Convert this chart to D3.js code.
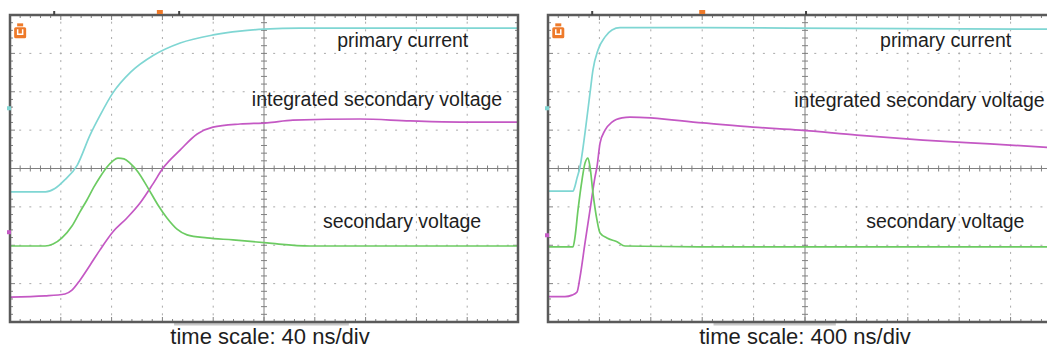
<!DOCTYPE html>
<html>
<head>
<meta charset="utf-8">
<script src="https://cdn.jsdelivr.net/npm/d3@7"></script>
<style>
  html, body { margin: 0; padding: 0; background: #fff; }
  svg { display: block; font-family: "Liberation Sans", Arial, sans-serif; }
</style>
</head>
<body>
<svg id="chart" width="1047" height="349"></svg>
<script>
// Scope screens: 10 horizontal divisions, 8 vertical divisions (values in divisions, -4..4)
const labels = ["primary current", "integrated secondary voltage", "secondary voltage"];
const timeScaleLabels = ["time scale: 40 ns/div", "time scale: 400 ns/div"];
const nsPerDiv = [40, 400];

// ---- Screen A: 40 ns/div ----
const tCurrentA = [0, 28, 35, 43, 53, 63, 71, 81, 95, 113, 134, 160, 181, 200, 228, 300, 400];
const vCurrentA = [-0.61, -0.61, -0.53, -0.30, 0.09, 0.87, 1.39, 1.97, 2.51, 2.95, 3.27, 3.48, 3.58, 3.63, 3.66, 3.66, 3.66];

const tSecondaryA = [0, 27.6, 33.9, 40.9, 48.8, 55.1, 60.6, 66.1, 70.9, 76.4, 81.1, 85, 89.8, 94.5, 100.8, 108.7, 116.5, 123.6, 131.5, 139.4, 155.1, 175.6, 202.4, 236.2, 400];
const vSecondaryA = [-2.02, -2.02, -1.97, -1.81, -1.50, -1.13, -0.82, -0.48, -0.22, 0.04, 0.20, 0.27, 0.25, 0.14, -0.09, -0.51, -0.95, -1.29, -1.58, -1.73, -1.81, -1.86, -1.94, -2.02, -2.02];

const tIntegratedA = [0, 27.6, 43.3, 48.8, 55.1, 63, 70.9, 81.1, 92.1, 102.4, 112.6, 120.5, 133.9, 147.4, 159.8, 181.1, 202.4, 222.8, 275.6, 315, 354.3, 400];
const vIntegratedA = [-3.35, -3.32, -3.27, -3.17, -2.91, -2.52, -2.12, -1.65, -1.29, -0.90, -0.40, 0.01, 0.48, 0.90, 1.08, 1.16, 1.19, 1.26, 1.29, 1.24, 1.21, 1.21];

// ---- Screen B: 400 ns/div ----
const tCurrentB = [0, 194.6, 210, 225.7, 249, 288, 327, 350, 389, 444, 498, 560, 1183, 2350, 4000];
const vCurrentB = [-0.59, -0.59, -0.46, -0.25, 0.04, 0.93, 1.97, 2.57, 3.09, 3.43, 3.61, 3.67, 3.67, 3.65, 3.63];

const tSecondaryB = [0, 194.6, 210, 233.5, 264.6, 288, 311, 327, 350, 381, 405, 459, 537, 599, 1183, 4000];
const vSecondaryB = [-2.04, -2.04, -1.79, -1.08, -0.30, 0.14, 0.27, 0.04, -0.64, -1.34, -1.68, -1.81, -1.91, -2.02, -2.04, -2.04];

const tIntegratedB = [0, 132, 187, 226, 249, 288, 327, 366, 381, 405, 444, 498, 576, 638, 1206, 1595, 1961, 2405, 2918, 3440, 4000];
const vIntegratedB = [-3.34, -3.34, -3.30, -3.22, -2.83, -1.94, -1.08, -0.22, 0.04, 0.66, 1.00, 1.21, 1.32, 1.34, 1.19, 1.08, 1.00, 0.87, 0.74, 0.64, 0.53];

const colors = { current: "#7fd6d3", integrated: "#c458c4", secondary: "#6ccb62", marker: "#ee7a2a" };

const svg = d3.select("#chart");

const panels = [
  {
    left: 10, right: 518, top: 15, bottom: 322,
    ns: nsPerDiv[0], caption: timeScaleLabels[0],
    current: d3.zip(tCurrentA, vCurrentA),
    secondary: d3.zip(tSecondaryA, vSecondaryA),
    integrated: d3.zip(tIntegratedA, vIntegratedA),
    labelPos: [[6.44, 3.17], [4.76, 1.63], [6.16, -1.55]],
    trig: 2.95, topTicks: [0.87, 3.33], sideMarks: [[1.57, colors.current], [-1.66, colors.integrated]],
    shade: [3.23, 6.67]
  },
  {
    left: 548, right: 1062, top: 15, bottom: 322,
    ns: nsPerDiv[1], caption: timeScaleLabels[1],
    current: d3.zip(tCurrentB, vCurrentB),
    secondary: d3.zip(tSecondaryB, vSecondaryB),
    integrated: d3.zip(tIntegratedB, vIntegratedB),
    labelPos: [[6.46, 3.17], [4.79, 1.60], [6.19, -1.55]],
    trig: 3.0, topTicks: [0.86, 5.02], sideMarks: [[1.57, colors.current], [-1.74, colors.integrated]],
    shade: [3.22, 5.6]
  }
];

panels.forEach((p, pi) => {
  const x = d3.scaleLinear().domain([0, 10 * p.ns]).range([p.left, p.right]);
  const xd = d3.scaleLinear().domain([0, 10]).range([p.left, p.right]);   // division units
  const y = d3.scaleLinear().domain([-4, 4]).range([p.bottom, p.top]);

  const clipId = "clip" + pi;
  svg.append("clipPath").attr("id", clipId)
    .append("rect").attr("x", p.left).attr("y", p.top)
    .attr("width", p.right - p.left).attr("height", p.bottom - p.top);

  const g = svg.append("g");
  const minorX = (xd(1) - xd(0)) / 5;
  const minorY = (y(0) - y(1)) / 5;

  // dotted graticule
  const grid = g.append("g").attr("stroke", "#a9a9a9").attr("stroke-width", 1);
  d3.range(1, 10).filter(d => d !== 5).forEach(d => {
    grid.append("line")
      .attr("x1", xd(d)).attr("x2", xd(d)).attr("y1", p.top).attr("y2", p.bottom)
      .attr("stroke-dasharray", `2 ${minorY - 2}`).attr("stroke-dashoffset", 1);
  });
  d3.range(-3, 4).filter(d => d !== 0).forEach(d => {
    grid.append("line")
      .attr("x1", p.left).attr("x2", p.right).attr("y1", y(d)).attr("y2", y(d))
      .attr("stroke-dasharray", `2 ${minorX - 2}`).attr("stroke-dashoffset", 1);
  });

  // centre axes with minor ticks
  const axes = g.append("g").attr("stroke", "#808080").attr("stroke-width", 1);
  axes.append("line").attr("x1", xd(5)).attr("x2", xd(5)).attr("y1", p.top).attr("y2", p.bottom);
  axes.append("line").attr("x1", p.left).attr("x2", p.right).attr("y1", y(0)).attr("y2", y(0));
  const minorXs = d3.range(0, 50.001, 1).map(i => i / 5);
  const minorYs = d3.range(-20, 20.001, 1).map(i => i / 5);
  axes.selectAll(".tx").data(minorXs).join("line")
    .attr("x1", d => xd(d)).attr("x2", d => xd(d))
    .attr("y1", y(0) - 3).attr("y2", y(0) + 3);
  axes.selectAll(".ty").data(minorYs).join("line")
    .attr("x1", xd(5) - 3).attr("x2", xd(5) + 3)
    .attr("y1", d => y(d)).attr("y2", d => y(d));

  // edge ticks pointing inward
  const edge = g.append("g").attr("stroke", "#808080").attr("stroke-width", 1);
  minorXs.forEach(d => {
    const len = (d % 1 === 0) ? 5 : 3;
    edge.append("line").attr("x1", xd(d)).attr("x2", xd(d)).attr("y1", p.top).attr("y2", p.top + len);
    edge.append("line").attr("x1", xd(d)).attr("x2", xd(d)).attr("y1", p.bottom).attr("y2", p.bottom - len);
  });
  minorYs.forEach(d => {
    const len = (d % 1 === 0) ? 5 : 3;
    edge.append("line").attr("x1", p.left).attr("x2", p.left + len).attr("y1", y(d)).attr("y2", y(d));
    edge.append("line").attr("x1", p.right).attr("x2", p.right - len).attr("y1", y(d)).attr("y2", y(d));
  });

  // traces
  const line = d3.line().x(d => x(d[0])).y(d => y(d[1])).curve(d3.curveMonotoneX);
  const traces = g.append("g").attr("clip-path", `url(#${clipId})`).attr("fill", "none")
    .attr("stroke-width", 1.7).attr("stroke-linejoin", "round");
  traces.append("path").datum(p.current).attr("d", line).attr("stroke", colors.current);
  traces.append("path").datum(p.integrated).attr("d", line).attr("stroke", colors.integrated);
  traces.append("path").datum(p.secondary).attr("d", line).attr("stroke", colors.secondary);

  // frame
  g.append("line").attr("x1", xd(p.shade[0])).attr("x2", xd(p.shade[1]))
    .attr("y1", p.bottom + 2).attr("y2", p.bottom + 2).attr("stroke", "#c8c8c8").attr("stroke-width", 3);
  g.append("rect").attr("x", p.left).attr("y", p.top)
    .attr("width", p.right - p.left).attr("height", p.bottom - p.top)
    .attr("fill", "none").attr("stroke", "#5a5a5a").attr("stroke-width", 2.5);

  // trigger position and cursor marks above the screen
  g.append("path")
    .attr("transform", `translate(${xd(p.trig)},${p.top - 1})`)
    .attr("d", "M-3,-4 L3,-4 L3,0 L-3,0 Z").attr("fill", colors.marker);
  p.topTicks.forEach(d => {
    g.append("rect").attr("x", xd(d) - 1).attr("y", p.top - 4).attr("width", 2).attr("height", 4).attr("fill", "#444");
  });

  // channel marker in the corner
  const cm = g.append("g").attr("transform", `translate(${xd(0.2)},${y(3.6)})`);
  cm.append("path").attr("d", "M-3,-7 L3,-7 L3,-4 L-3,-4 Z").attr("fill", colors.marker);
  cm.append("rect").attr("x", -6).attr("y", -3).attr("width", 12).attr("height", 11).attr("rx", 1.5).attr("fill", colors.marker);
  cm.append("path").attr("d", "M-2.5,-1 L-2.5,4 L2.5,4 L2.5,-1").attr("fill", "none").attr("stroke", "#fff").attr("stroke-width", 1.5);

  // channel offset marks on the left edge
  p.sideMarks.forEach(([v, c]) => {
    g.append("rect").attr("x", p.left - 3).attr("y", y(v) - 2).attr("width", 4).attr("height", 4).attr("fill", c);
  });

  // trace labels
  const txt = g.append("g").attr("fill", "#1e1e1e").attr("font-size", "19.5px");
  labels.forEach((s, i) => {
    txt.append("text").attr("x", xd(p.labelPos[i][0])).attr("y", y(p.labelPos[i][1])).text(s);
  });

  // time base caption
  svg.append("text")
    .attr("x", xd(5) + (pi === 0 ? 6 : 0)).attr("y", 344)
    .attr("text-anchor", "middle").attr("font-size", "22px").attr("fill", "#1e1e1e")
    .text(p.caption);
});
</script>
</body>
</html>
